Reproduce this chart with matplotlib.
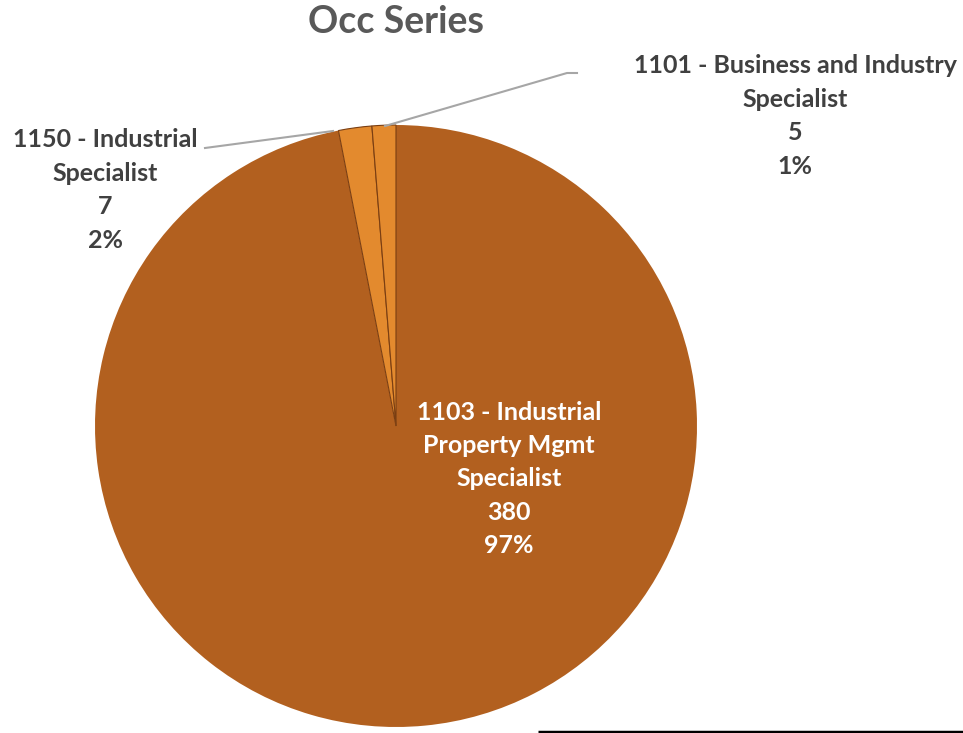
import matplotlib
matplotlib.use("Agg")
import matplotlib.pyplot as plt

# data
labels = ["1103 - Industrial\nProperty Mgmt\nSpecialist", "1150 - Industrial\nSpecialist",
          "1101 - Business and Industry\nSpecialist"]
values = [380, 7, 5]
colors = ["#B2601F", "#E38A2E", "#E38A2E"]
title = "Occ Series"

plt.rcParams['font.family'] = ['Lato', 'DejaVu Sans']

W, H = 963, 733
fig = plt.figure(figsize=(W / 100, H / 100), dpi=100)
ax = fig.add_axes([0, 0, 1, 1])

total = sum(values)
wedges, _ = ax.pie(values, colors=colors, startangle=90, counterclock=False,
                   center=(396, H - 426), radius=301,
                   wedgeprops=dict(edgecolor="#7A3E12", linewidth=0.8))
wedges[0].set_edgecolor("white")
wedges[0].set_linewidth(0)

ax.set_xlim(0, W)
ax.set_ylim(0, H)
ax.set_aspect("equal")
ax.axis("off")


def lab(i):
    return "%s\n%d\n%d%%" % (labels[i], values[i], round(values[i] / total * 100))


fs = 18
ls = 1.55
ax.text(509, H - 479, lab(0), ha="center", va="center", fontsize=fs,
        fontweight="bold", color="white", linespacing=ls)
ax.text(105, H - 190, lab(1), ha="center", va="center", fontsize=fs,
        fontweight="bold", color="#404040", linespacing=ls)
ax.text(795, H - 116, lab(2), ha="center", va="center", fontsize=fs,
        fontweight="bold", color="#404040", linespacing=ls)

# leader lines
ax.plot([205, 333], [H - 148, H - 131], color="#A6A6A6", lw=1.5)
ax.plot([385, 567, 577], [H - 126, H - 73, H - 73], color="#A6A6A6", lw=1.5)

ax.text(396, H - 22, title, ha="center", va="center", fontsize=27,
        fontweight="bold", color="#595959")

# black rule at bottom
ax.plot([538, 963], [H - 731.5, H - 731.5], color="black", lw=2.5, solid_capstyle="butt")

fig.savefig("out.png", dpi=100)
